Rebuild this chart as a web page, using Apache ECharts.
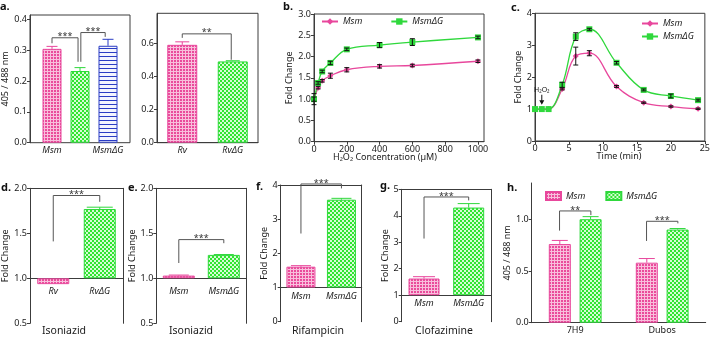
<!DOCTYPE html>
<html>
<head>
<meta charset="utf-8">
<script src="https://cdn.jsdelivr.net/npm/echarts@6/dist/echarts.min.js"></script>
<style>
html, body { margin: 0; padding: 0; background: #fff; }
#chart { width: 713px; height: 338px; }
</style>
</head>
<body>
<div id="chart"></div>
<script>
// a: 405/488 ratio, Msm strains
const aCats = ['Msm', '', 'MsmΔG'];
const aVals = [0.305, 0.233, 0.315];
const aErr = [0.008, 0.011, 0.021];
const aTicks = [0, 0.1, 0.2, 0.3, 0.4];
// a (right): Rv strains
const a2Cats = ['Rv', 'RvΔG'];
const a2Vals = [0.59, 0.49];
const a2Err = [0.018, 0.004];
const a2Ticks = [0, 0.2, 0.4, 0.6];
// b: H2O2 dose response
const bConc = [0, 25, 50, 100, 200, 400, 600, 1000];
const bMsm = [1.0, 1.27, 1.43, 1.55, 1.69, 1.77, 1.79, 1.89];
const bMsmErr = [0.13, 0.03, 0.03, 0.06, 0.05, 0.04, 0.03, 0.03];
const bDG = [1.0, 1.38, 1.65, 1.85, 2.17, 2.27, 2.34, 2.45];
const bDGErr = [0.05, 0.03, 0.03, 0.04, 0.03, 0.06, 0.08, 0.03];
const bXTicks = [0, 200, 400, 600, 800, 1000];
const bYTicks = [0, 0.5, 1, 1.5, 2, 2.5, 3];
// c: time course
const cTime = [0, 1, 2, 4, 6, 8, 12, 16, 20, 24];
const cMsm = [1, 1, 1, 1.63, 2.66, 2.75, 1.71, 1.2, 1.08, 1.01];
const cMsmErr = [0, 0, 0, 0.03, 0.28, 0.08, 0.03, 0.02, 0.02, 0.02];
const cDG = [1, 1, 1, 1.76, 3.27, 3.5, 2.45, 1.6, 1.41, 1.28];
const cDGErr = [0, 0, 0, 0.08, 0.12, 0.03, 0.04, 0.03, 0.06, 0.03];
const cXTicks = [0, 5, 10, 15, 20, 25];
const cYTicks = [0, 1, 2, 3, 4];
// d-g: fold change after drug
const dCats = ['Rv', 'RvΔG'];
const dVals = [0.935, 1.77];
const dErr = [0, 0.02];
const msmCats = ['Msm', 'MsmΔG'];
const eVals = [1.03, 1.26];
const eErr = [0.006, 0.004];
const fVals = [1.61, 3.57];
const fErr = [0.03, 0.04];
const gVals = [1.63, 4.31];
const gErr = [0.07, 0.15];
const deTicks = [0.5, 1, 1.5, 2];
const fTicks = [0, 1, 2, 3, 4];
const gTicks = [0, 1, 2, 3, 4, 5];
// h: media
const hCats = ['7H9', 'Dubos'];
const hMsm = [0.76, 0.58];
const hMsmErr = [0.035, 0.04];
const hDG = [1.0, 0.9];
const hDGErr = [0.025, 0.01];
const hTicks = [0, 0.5, 1];
// significance brackets: [x1, x2, yLeft, yTop, yRight, label]
const aSig = [[0, 0.93, 0.323, 0.341, 0.263, '***'], [1.03, 1.9, 0.263, 0.358, 0.344, '***']];
const a2Sig = [[0, 0.97, 0.632, 0.656, 0.5, '**']];
const dSig = [[0, 1, 1.41, 1.92, 1.85, '***']];
const eSig = [[0, 1, 1.17, 1.43, 1.39, '***']];
const fSig = [[0, 1, 2.58, 4.03, 3.9, '***']];
const gSig = [[0, 1, 3.14, 4.71, 4.58, '***']];
const hSig = [[-0.18, 0.18, 0.89, 1.08, 1.04, '**'], [0.82, 1.18, 0.79, 0.98, 0.96, '***']];

const FONT = 'Noto Sans';
const AX = '#3c3c3c';
const PINK = '#e8479c', GREEN = '#2fd83c', BLUE = '#2b3cc4';
const LABEL = { color: '#1a1a1a', fontSize: 9, fontFamily: FONT };
const NAME = { color: '#1a1a1a', fontSize: 9, fontFamily: FONT };

function tile(size, draw) {
  const c = document.createElement('canvas');
  c.width = size; c.height = size;
  draw(c.getContext('2d'));
  return { image: c, repeat: 'repeat' };
}
const pinkFill = tile(3, g => { g.fillStyle = '#f8bfdc'; g.fillRect(0, 0, 3, 3); g.fillStyle = '#ea4b9b'; g.fillRect(0, 0, 2, 2); });
const greenFill = tile(4, g => { g.fillStyle = '#d6fbd6'; g.fillRect(0, 0, 4, 4); g.fillStyle = '#30e530'; g.fillRect(0, 0, 2, 2); g.fillRect(2, 2, 2, 2); });
const blueFill = tile(4, g => { g.fillStyle = '#f3f4ff'; g.fillRect(0, 0, 4, 4); g.fillStyle = '#2a3cc4'; g.fillRect(0, 0, 4, 1); });
const pinkStyle = { color: pinkFill, borderColor: PINK, borderWidth: 1 };
const greenStyle = { color: greenFill, borderColor: GREEN, borderWidth: 1 };
const blueStyle = { color: blueFill, borderColor: BLUE, borderWidth: 1 };

const grid = [], xAxis = [], yAxis = [], series = [];
const HIDDEN = { type: 'value', show: false, min: 0, max: 1 };
const edgeLine = pos => ({
  type: 'value', min: 0, max: 1, position: pos,
  axisLine: { show: true, onZero: false, lineStyle: { color: AX, width: 1 } },
  axisTick: { show: false }, axisLabel: { show: false }, splitLine: { show: false }
});

function panel(rect, xa, ya) {
  const i = grid.length;
  grid.push(rect);
  xAxis.push(Object.assign({ gridIndex: i }, xa));
  yAxis.push(Object.assign({ gridIndex: i }, ya));
  return i;
}

function valueAxis(min, max, ticks, dec, shift, extra) {
  const vals = ticks.map(t => t - shift);
  return Object.assign({
    type: 'value', min: min - shift, max: max - shift,
    splitLine: { show: false },
    axisLine: { show: true, onZero: false, lineStyle: { color: AX, width: 1 } },
    axisTick: { show: true, length: 3, customValues: vals, lineStyle: { color: AX } },
    axisLabel: Object.assign({ margin: 3, customValues: vals, formatter: v => (v + shift).toFixed(dec) }, LABEL)
  }, extra || {});
}

function catAxis(cats, italic, margin, showLine, showLabel) {
  return {
    type: 'category', data: cats,
    axisLine: { show: showLine, lineStyle: { color: AX, width: 1 } },
    axisTick: { show: false },
    axisLabel: Object.assign({ show: showLabel !== false, interval: 0, margin: margin, fontStyle: italic ? 'italic' : 'normal' }, LABEL)
  };
}

function barSeries(idx, vals, styles, width, base, name) {
  return {
    type: 'bar', name: name || ('bar' + idx), xAxisIndex: idx, yAxisIndex: idx,
    barWidth: width, barGap: '40%',
    itemStyle: styles[0],
    data: vals.map((v, i) => ({ value: v - base, itemStyle: styles[i] || styles[0] }))
  };
}

// one-sided error bars on top of the bars
function errSeries(idx, vals, errs, colors, cap, base, dx) {
  return {
    type: 'custom', xAxisIndex: idx, yAxisIndex: idx, silent: true, z: 3,
    data: vals.map((v, i) => [i, v - base]),
    renderItem: (params, api) => {
      const i = params.dataIndex;
      const v = vals[i] - base, e = errs[i];
      if (!e) return null;
      const dir = v < 0 ? -1 : 1;
      const p0 = api.coord([i, v]);
      const p1 = api.coord([i, v + dir * e]);
      const x = p0[0] + dx;
      const col = Array.isArray(colors) ? colors[i] : colors;
      const st = { stroke: col, lineWidth: 1 };
      return { type: 'group', children: [
        { type: 'line', shape: { x1: x, y1: p0[1], x2: x, y2: p1[1] }, style: st },
        { type: 'line', shape: { x1: x - cap, y1: p1[1], x2: x + cap, y2: p1[1] }, style: st }
      ] };
    }
  };
}

// symmetric black error bars on line charts
function lineErr(idx, xs, ys, errs) {
  return {
    type: 'custom', xAxisIndex: idx, yAxisIndex: idx, silent: true, z: 4,
    data: xs.map((x, i) => [x, ys[i]]),
    renderItem: (params, api) => {
      const i = params.dataIndex;
      if (!errs[i]) return null;
      const lo = api.coord([xs[i], ys[i] - errs[i]]);
      const hi = api.coord([xs[i], ys[i] + errs[i]]);
      const st = { stroke: '#111', lineWidth: 1 };
      const w = 2.5;
      return { type: 'group', children: [
        { type: 'line', shape: { x1: lo[0], y1: lo[1], x2: hi[0], y2: hi[1] }, style: st },
        { type: 'line', shape: { x1: hi[0] - w, y1: hi[1], x2: hi[0] + w, y2: hi[1] }, style: st },
        { type: 'line', shape: { x1: lo[0] - w, y1: lo[1], x2: lo[0] + w, y2: lo[1] }, style: st }
      ] };
    }
  };
}

function sigSeries(idx, brackets, base) {
  return {
    type: 'custom', xAxisIndex: idx, yAxisIndex: idx, silent: true, z: 4,
    data: brackets.map(b => [Math.round(b[0]), b[3] - base]),
    renderItem: (params, api) => {
      const b = brackets[params.dataIndex];
      const band = api.size([1, 0])[0];
      const px = x => api.coord([Math.round(x), 0])[0] + (x - Math.round(x)) * band;
      const py = y => api.coord([0, y - base])[1];
      const x1 = px(b[0]), x2 = px(b[1]);
      const yl = py(b[2]), yt = py(b[3]), yr = py(b[4]);
      return { type: 'group', children: [
        { type: 'polyline', shape: { points: [[x1, yl], [x1, yt], [x2, yt], [x2, yr]] },
          style: { stroke: '#555', lineWidth: 1, fill: null } },
        { type: 'text', style: { text: b[5], x: (x1 + x2) / 2, y: yt - 1, align: 'center', verticalAlign: 'middle',
          fontSize: 9, fontFamily: FONT, fill: '#333' } }
      ] };
    }
  };
}

function lineSeries(name, idx, xs, ys, color, symbol, size, extra) {
  return Object.assign({
    type: 'line', name: name, xAxisIndex: idx, yAxisIndex: idx,
    data: xs.map((x, i) => [x, ys[i]]),
    smooth: 0.4, symbol: symbol, symbolSize: size, showAllSymbol: true, z: 3,
    itemStyle: { color: color }, lineStyle: { color: color, width: 1.3 }
  }, extra || {});
}

function framed(rect) {
  return Object.assign({ show: true, borderColor: AX, borderWidth: 1, backgroundColor: 'transparent' }, rect);
}

// ---- a (left): frame + bars on a narrower band
const aRect = { left: 30, top: 15, width: 100, height: 127.7 };
panel(framed(aRect), HIDDEN,
  valueAxis(0, 0.415, aTicks, 1, 0, { name: '405 / 488 nm', nameLocation: 'middle', nameGap: 17, nameTextStyle: NAME }));
const aIdx = panel({ left: 38, top: 15, width: 84, height: 127.7 }, catAxis(aCats, true, 3, false),
  { type: 'value', show: false, min: 0, max: 0.415 });
series.push(barSeries(aIdx, aVals, [pinkStyle, greenStyle, blueStyle], 19, 0));
series.push(errSeries(aIdx, aVals, aErr, [PINK, GREEN, BLUE], 5.5, 0, 0));
series.push(sigSeries(aIdx, aSig, 0));

// ---- a (right)
const a2Idx = panel(framed({ left: 157, top: 13.3, width: 101, height: 129.4 }), catAxis(a2Cats, true, 3, true),
  valueAxis(0, 0.78, a2Ticks, 1, 0));
series.push(barSeries(a2Idx, a2Vals, [pinkStyle, greenStyle], 30, 0));
series.push(errSeries(a2Idx, a2Vals, a2Err, [PINK, GREEN], 7, 0, 0));
series.push(sigSeries(a2Idx, a2Sig, 0));

// ---- b
const bIdx = panel(framed({ left: 314, top: 14, width: 170, height: 127.7 }),
  valueAxis(0, 1037, bXTicks, 0, 0),
  valueAxis(0, 3, bYTicks, 1, 0, { name: 'Fold Change', nameLocation: 'middle', nameGap: 18, nameTextStyle: NAME }));
series.push(lineSeries('Msm#b', bIdx, bConc, bMsm, PINK, 'diamond', 6));
series.push(lineSeries('MsmΔG#b', bIdx, bConc, bDG, GREEN, 'rect', 6));
series.push(lineErr(bIdx, bConc, bMsm, bMsmErr));
series.push(lineErr(bIdx, bConc, bDG, bDGErr));

// ---- c
const cIdx = panel(framed({ left: 535, top: 13.3, width: 172, height: 127.7 }),
  valueAxis(0, 25, cXTicks, 0, 0),
  valueAxis(0, 4, cYTicks, 0, 0, { name: 'Fold Change', nameLocation: 'middle', nameGap: 11, nameTextStyle: NAME }));
series.push(lineSeries('Msm#c', cIdx, cTime, cMsm, PINK, 'diamond', 6));
series.push(lineSeries('MsmΔG#c', cIdx, cTime, cDG, GREEN, 'rect', 6, {
  markPoint: {
    silent: true, symbol: 'path://M4,0L6,0L6,7L10,7L5,13L0,7L4,7Z', symbolSize: [5, 10],
    itemStyle: { color: '#111' },
    label: { show: true, position: 'top', distance: 1, formatter: 'H₂O₂', fontSize: 7, color: '#111', fontFamily: FONT },
    data: [{ coord: [1, 1.29] }]
  }
}));
series.push(lineErr(cIdx, cTime, cMsm, cMsmErr));
series.push(lineErr(cIdx, cTime, cDG, cDGErr));

// ---- d-g: bars grow from fold change 1.0
function foldPanel(p) {
  const idx = panel(p.rect, catAxis(p.cats, true, 0, true, false),
    valueAxis(p.lo, p.hi, p.ticks, p.dec, 1, { name: 'Fold Change', nameLocation: 'middle', nameGap: p.nameGap, nameTextStyle: NAME }));
  // top and right edges of the box
  panel(Object.assign({}, p.rect), edgeLine('top'), edgeLine('right'));
  // category labels sit just under the 1.0 line
  const upper = Object.assign({}, p.rect, { height: p.rect.height * (p.hi - 1) / (p.hi - p.lo) });
  panel(upper, catAxis(p.cats, true, p.margin, false), HIDDEN);
  series.push(barSeries(idx, p.vals, [pinkStyle, greenStyle], p.barWidth, 1));
  series.push(errSeries(idx, p.vals, p.errs, [PINK, GREEN], p.cap, 1, 0));
  series.push(sigSeries(idx, p.sig, 1));
}
foldPanel({ rect: { left: 30, top: 188.3, width: 93, height: 135 }, cats: dCats, vals: dVals, errs: dErr,
  lo: 0.5, hi: 2, ticks: deTicks, dec: 1, margin: 9, nameGap: 18, barWidth: 32, cap: 13, sig: dSig });
foldPanel({ rect: { left: 156.3, top: 188.3, width: 90, height: 135 }, cats: msmCats, vals: eVals, errs: eErr,
  lo: 0.5, hi: 2, ticks: deTicks, dec: 1, margin: 9, nameGap: 16, barWidth: 32, cap: 10, sig: eSig });
foldPanel({ rect: { left: 280.7, top: 185, width: 81, height: 136.7 }, cats: msmCats, vals: fVals, errs: fErr,
  lo: 0, hi: 4, ticks: fTicks, dec: 0, margin: 4, nameGap: 10, barWidth: 29, cap: 10, sig: fSig });
foldPanel({ rect: { left: 401.7, top: 189.3, width: 89.3, height: 132.4 }, cats: msmCats, vals: gVals, errs: gErr,
  lo: 0, hi: 5, ticks: gTicks, dec: 0, margin: 4, nameGap: 9.5, barWidth: 31, cap: 11, sig: gSig });

// ---- h
const H_BW = 22, H_GAP = 0.4;
const hIdx = panel({ left: 531.7, top: 183, width: 174, height: 139.7 }, catAxis(hCats, false, 3, true),
  valueAxis(0, 1.35, hTicks, 1, 0, { name: '405 / 488 nm', nameLocation: 'middle', nameGap: 14, nameTextStyle: NAME }));
series.push(barSeries(hIdx, hMsm, [pinkStyle], H_BW, 0, 'Msm#h'));
series.push(barSeries(hIdx, hDG, [greenStyle], H_BW, 0, 'MsmΔG#h'));
series.push(errSeries(hIdx, hMsm, hMsmErr, PINK, 8, 0, -H_BW * (1 + H_GAP) / 2));
series.push(errSeries(hIdx, hDG, hDGErr, GREEN, 8, 0, H_BW * (1 + H_GAP) / 2));
series.push(sigSeries(hIdx, hSig, 0));

const legendBase = {
  selectedMode: false, padding: 0, itemGap: 20,
  formatter: n => n.split('#')[0],
  textStyle: { fontSize: 9, fontStyle: 'italic', color: '#1a1a1a', fontFamily: FONT }
};

const labels = [
  ['a.', 0, 1], ['b.', 283, 1], ['c.', 511, 2],
  ['d.', 1, 182], ['e.', 128, 182], ['f.', 256, 181],
  ['g.', 380, 180], ['h.', 507, 182]
];
const captions = [
  ['Isoniazid', 64, 331.5], ['Isoniazid', 191, 331.5], ['Rifampicin', 318, 331.5], ['Clofazimine', 444, 331.5]
];
const axisTitles = [['H₂O₂ Concentration (µM)', 385, 157], ['Time (min)', 619, 156]];

const graphic = [];
labels.forEach(t => graphic.push({ type: 'text', x: t[1], y: t[2],
  style: { text: t[0], align: 'left', verticalAlign: 'top', font: 'bold 11px "Noto Sans"', fill: '#111' } }));
captions.forEach(t => graphic.push({ type: 'text', x: t[1], y: t[2],
  style: { text: t[0], align: 'center', verticalAlign: 'middle', font: '10.5px "Noto Sans"', fill: '#1a1a1a' } }));
axisTitles.forEach(t => graphic.push({ type: 'text', x: t[1], y: t[2],
  style: { text: t[0], align: 'center', verticalAlign: 'middle', font: '9px "Noto Sans"', fill: '#1a1a1a' } }));

const chart = echarts.init(document.getElementById('chart'));
chart.setOption({
  animation: false,
  backgroundColor: '#fff',
  textStyle: { fontFamily: FONT },
  grid: grid,
  xAxis: xAxis,
  yAxis: yAxis,
  legend: [
    Object.assign({}, legendBase, { data: ['Msm#b', 'MsmΔG#b'], left: 321, top: 17, itemWidth: 16, itemHeight: 8, itemGap: 28 }),
    Object.assign({}, legendBase, { data: ['Msm#c', 'MsmΔG#c'], orient: 'vertical', left: 641, top: 19, itemWidth: 16, itemHeight: 8, itemGap: 4 }),
    Object.assign({}, legendBase, { data: ['Msm#h', 'MsmΔG#h'], left: 545, top: 191, itemWidth: 15, itemHeight: 8, itemGap: 20, icon: 'rect' })
  ],
  series: series,
  graphic: graphic
});
</script>
</body>
</html>
